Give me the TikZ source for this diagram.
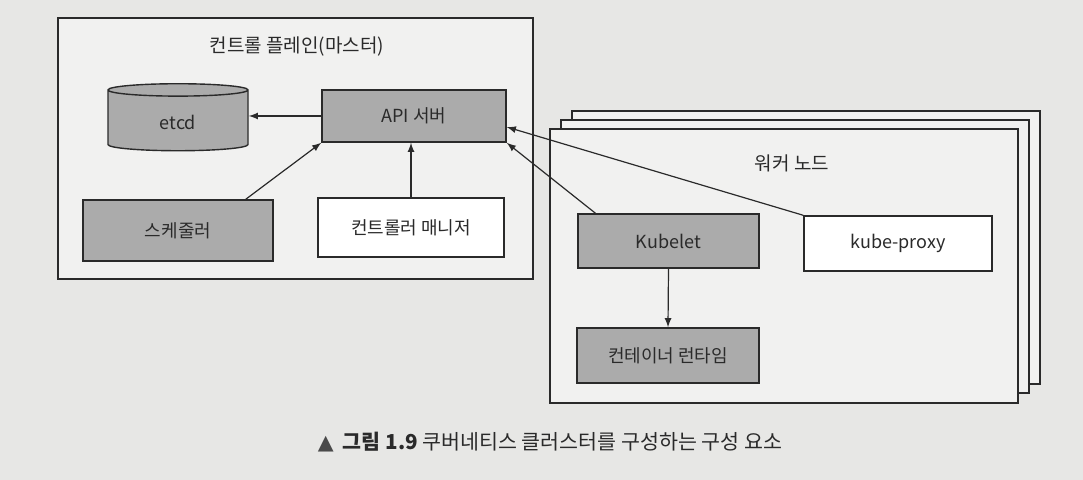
\documentclass[tikz,border=0pt]{standalone}
\usepackage{fontspec}
\setmainfont{Noto Sans CJK KR}
\newfontfamily\symfont{DejaVu Sans}
\usepackage{tikz}
\usetikzlibrary{arrows,shapes.geometric}
\usetikzlibrary{fit}
\usetikzlibrary{backgrounds}
\definecolor{paper}{HTML}{E7E7E5}
\definecolor{panel}{HTML}{F1F1F0}
\definecolor{compgray}{HTML}{ABABAB}
\definecolor{ink}{HTML}{2A2A2A}
\tikzstyle{component}=[rectangle,
line width=0.7pt,
draw=ink,
fill=compgray,
text=ink,
font=\fontsize{9}{11}\selectfont]
\tikzstyle{whitebox}=[component,
fill=white]
\tikzstyle{store}=[cylinder,
shape border rotate=90,
shape aspect=0.25,
line width=0.7pt,
draw=ink,
fill=compgray,
text=ink,
font=\fontsize{9}{11}\selectfont]
\tikzstyle{panelbox}=[rectangle,
line width=0.7pt,
draw=ink,
fill=panel,
inner sep=0pt]
\tikzstyle{heading}=[text=ink,
font=\fontsize{9.5}{11}\selectfont]

\begin{document}
\begin{tikzpicture}[>=latex,x=0.5pt,y=-0.5pt]
	% Control plane (master) components
	\node (master_title) [heading] at (297,47) {컨트롤 플레인(마스터)};
	\node (etcd)  [store,minimum width=70pt,minimum height=33.5pt] at (178,122) {etcd};
	\node (api)   [component,minimum width=92pt,minimum height=26pt] at (414,116) {API 서버};
	\node (sched) [component,minimum width=95pt,minimum height=30.5pt] at (178,230.5) {스케줄러};
	\node (ctrl)  [whitebox,minimum width=93pt,minimum height=29.5pt] at (411,227.5) {컨트롤러 매니저};
	
	% Worker node components
	\node (worker_title) [heading] at (792,163) {워커 노드};
	\node (kubelet) [component,minimum width=90.5pt,minimum height=27pt] at (668.5,241) {Kubelet};
	\node (proxy)   [whitebox,minimum width=94pt,minimum height=27.5pt] at (898,243.5) {kube-proxy};
	\node (runtime) [component,minimum width=91pt,minimum height=27.5pt] at (668,355.5) {컨테이너 런타임};
	
	% Caption
	\node (caption) [heading,font=\fontsize{10.3}{12}\selectfont] at (550,442) {{\symfont\color{ink!85}▲}\ \ \textbf{그림 1.9} 쿠버네티스 클러스터를 구성하는 구성 요소};
	
	% Connections
	\path[->,ink,line width=0.6pt]
	(api.west) edge (api.west -| etcd.east)
	([xshift=-14pt]sched.north east) edge (api.south west)
	(ctrl.north) edge (ctrl.north |- api.south)
	(kubelet.north) ++(-36.5pt,0) edge (api.south east)
	(proxy.north west) edge ([yshift=-5.5pt]api.east)
	(kubelet.south) edge (runtime.north)
	;
	
	% Boxes behind the components
	\begin{pgfonlayer}{background}
	\fill[paper] (0,0) rectangle (1083,480);
	\node (master) [panelbox,fit={(58,18) (533,279)}] {};
	\node (worker_back) [panelbox,fit={(572,111) (1040,384)}] {};
	\node (worker_mid)  [panelbox,fit={(561,120) (1029,393)}] {};
	\node (worker)      [panelbox,fit={(550,129) (1018,403)}] {};
	\end{pgfonlayer}
\end{tikzpicture}
\end{document}
